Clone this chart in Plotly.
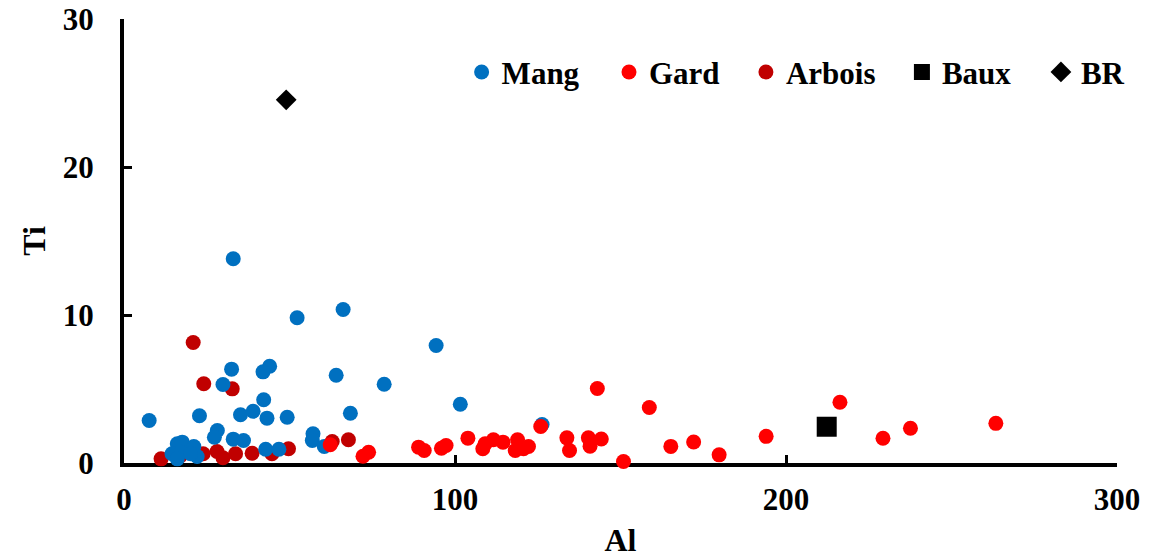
import plotly.graph_objects as go

# Mang samples
mang_al = [7.6, 33.0, 66.2, 52.3, 32.5, 44.0, 42.0, 29.9, 64.1, 78.6, 94.3, 101.6,
           22.8, 35.2, 39.0, 42.2, 43.2, 49.3, 68.4, 28.2, 27.3, 33.0, 36.1, 57.1,
           56.9, 60.5, 42.8, 46.8, 126.3, 16.1, 17.6, 21.1, 14.5, 17.1, 22.1, 20.1, 16.1]
mang_ti = [2.87, 13.8, 10.37, 9.81, 6.34, 6.54, 6.16, 5.3, 5.93, 5.32, 7.94, 3.97,
           3.19, 3.26, 3.5, 4.27, 3.03, 3.09, 3.36, 2.2, 1.74, 1.61, 1.52, 1.97,
           1.52, 1.11, 0.93, 0.93, 2.6, 1.3, 1.41, 1.11, 0.62, 0.73, 0.44, 0.62, 0.28]

# Gard samples
gard_al = [62.3, 72.2, 73.9, 89.0, 90.7, 95.9, 97.3, 103.9, 108.4, 109.1, 111.6, 114.5,
           118.9, 118.2, 120.7, 122.2, 125.9, 133.8, 134.6, 140.3, 140.8, 144.2, 143.0,
           158.7, 150.9, 165.2, 172.1, 179.8, 194.0, 216.3, 229.3, 237.6, 263.4]
gard_ti = [1.23, 0.46, 0.73, 1.07, 0.84, 1.0, 1.18, 1.68, 0.96, 1.3, 1.57, 1.41,
           1.57, 0.84, 0.96, 1.11, 2.47, 1.7, 0.84, 1.7, 1.14, 1.62, 5.03,
           3.75, 0.1, 1.12, 1.42, 0.55, 1.8, 4.1, 1.67, 2.35, 2.68]

# Arbois samples
arbois_al = [20.9, 24.1, 32.7, 67.8, 62.9, 49.7, 44.7, 38.7, 33.7, 29.9, 28.1, 23.9, 11.2, 17.1]
arbois_ti = [8.14, 5.35, 5.01, 1.57, 1.45, 0.96, 0.62, 0.66, 0.62, 0.35, 0.78, 0.62, 0.28, 0.5]

baux_al = [212.3]
baux_ti = [2.45]

br_al = [49.0]
br_ti = [24.54]

x_ticks = [0, 100, 200, 300]
y_ticks = [0, 10, 20, 30]

FONT = "Times New Roman"

fig = go.Figure()

# drawing order: Arbois below Mang, Gard on top
fig.add_trace(go.Scatter(x=arbois_al, y=arbois_ti, mode="markers", name="<b>Arbois</b>",
                         marker=dict(color="#C00000", size=15), legend="legend3",
                         showlegend=True, cliponaxis=False))
fig.add_trace(go.Scatter(x=mang_al, y=mang_ti, mode="markers", name="<b>Mang</b>",
                         marker=dict(color="#0070C0", size=15), legend="legend",
                         showlegend=True, cliponaxis=False))
fig.add_trace(go.Scatter(x=gard_al, y=gard_ti, mode="markers", name="<b>Gard</b>",
                         marker=dict(color="#FF0000", size=15), legend="legend2",
                         showlegend=True, cliponaxis=False))
fig.add_trace(go.Scatter(x=baux_al, y=baux_ti, mode="markers", name="<b>Baux</b>",
                         marker=dict(color="black", size=20, symbol="square"),
                         legend="legend4", showlegend=True, cliponaxis=False))
fig.add_trace(go.Scatter(x=br_al, y=br_ti, mode="markers", name="<b>BR</b>",
                         marker=dict(color="black", size=16, symbol="diamond"),
                         legend="legend5", showlegend=True, cliponaxis=False))

def leg(x):
    return dict(x=x, y=0.88, xanchor="left", yanchor="middle",
                font=dict(family=FONT, size=31),
                bgcolor="rgba(0,0,0,0)", borderwidth=0, visible=True)

axis_common = dict(showline=True, linecolor="black", linewidth=4, mirror=False,
                   ticks="inside", ticklen=8, tickwidth=3, tickcolor="black",
                   showgrid=False, zeroline=False, layer="below traces",
                   automargin=False,
                   tickfont=dict(family=FONT, size=31))

fig.update_layout(
    width=1173, height=559,
    margin=dict(l=124, r=56, t=19, b=96, autoexpand=False),
    paper_bgcolor="white", plot_bgcolor="white",
    font=dict(family=FONT, color="black"),
    showlegend=True,
    legend=leg(0.340), legend2=leg(0.4884), legend3=leg(0.6263),
    legend4=leg(0.7834), legend5=leg(0.9234),
    xaxis=dict(range=[0, 300], tickvals=x_ticks,
               ticktext=["<b>%d</b>" % v for v in x_ticks], ticklabelstandoff=6,
               title=dict(text="<b>Al</b>", standoff=13, font=dict(family=FONT, size=32)),
               **axis_common),
    yaxis=dict(range=[0, 30], tickvals=y_ticks,
               ticktext=["<b>%d</b>" % v for v in y_ticks], ticklabelstandoff=20,
               title=dict(text="<b>Ti</b>", standoff=9, font=dict(family=FONT, size=32)),
               **axis_common),
)

fig.write_html("out.html", config={"displayModeBar": False},
               post_script="document.body.style.margin='0';")
